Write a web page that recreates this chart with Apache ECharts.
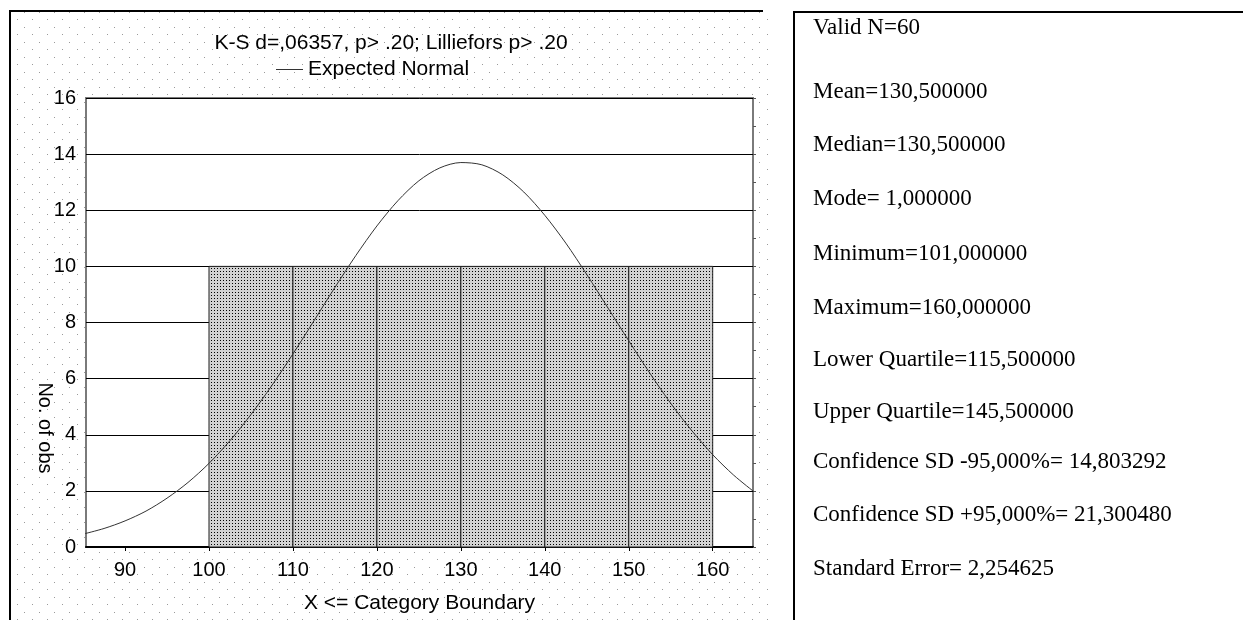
<!DOCTYPE html>
<html>
<head>
<meta charset="utf-8">
<script src="https://cdn.jsdelivr.net/npm/echarts@6/dist/echarts.min.js"></script>
<style>
  html, body { margin: 0; padding: 0; background: #fff; }
  #chart { width: 1243px; height: 620px; }
</style>
</head>
<body>
<div id="chart"></div>
<script>
// histogram bins (category boundaries) and counts
const binStart = [100, 110, 120, 130, 140, 150];
const binEnd = [110, 120, 130, 140, 150, 160];
const binCounts = [10, 10, 10, 10, 10, 10];

// expected normal curve
const curveX = [85, 87.5, 90, 92.5, 95, 97.5, 100, 102.5, 105, 107.5, 110, 112.5, 115, 117.5, 120, 122.5,
  125, 127.5, 130, 132.5, 135, 137.5, 140, 142.5, 145, 147.5, 150, 152.5, 155, 157.5, 160, 162.5, 165];
const curveY = [0.46, 0.66, 0.93, 1.28, 1.74, 2.30, 2.98, 3.79, 4.72, 5.76, 6.88, 8.06, 9.25, 10.39, 11.44, 12.34,
  13.05, 13.51, 13.70, 13.62, 13.26, 12.65, 11.82, 10.83, 9.71, 8.53, 7.35, 6.20, 5.12, 4.15, 3.29, 2.56, 1.95];

const xTicks = [90, 100, 110, 120, 130, 140, 150, 160];
const yTicks = [0, 2, 4, 6, 8, 10, 12, 14, 16];

const statLines = [
  'Valid N=60',
  'Mean=130,500000',
  'Median=130,500000',
  'Mode= 1,000000',
  'Minimum=101,000000',
  'Maximum=160,000000',
  'Lower Quartile=115,500000',
  'Upper Quartile=145,500000',
  'Confidence SD -95,000%= 14,803292',
  'Confidence SD +95,000%= 21,300480',
  'Standard Error= 2,254625'
];
const statY = [28, 92, 145, 199, 254, 308, 360, 412, 462, 515, 569];

const sans = 'Liberation Sans, Arial, sans-serif';
const serif = 'Liberation Serif, Times New Roman, serif';

// dotted paper background
function dotCanvas() {
  const c = document.createElement('canvas');
  c.width = 15; c.height = 15;
  const ctx = c.getContext('2d');
  ctx.fillStyle = '#fff';
  ctx.fillRect(0, 0, 15, 15);
  ctx.fillStyle = '#9a9a9a';
  ctx.fillRect(2, 4, 1, 1);
  ctx.fillRect(9, 12, 1, 1);
  return c;
}
// stipple fill of bars
function stippleCanvas() {
  const c = document.createElement('canvas');
  c.width = 3; c.height = 3;
  const ctx = c.getContext('2d');
  ctx.fillStyle = '#d2d2d2';
  ctx.fillRect(0, 0, 3, 3);
  ctx.fillStyle = '#000';
  ctx.fillRect(1, 1, 1, 1);
  return c;
}
const dotPattern = { image: dotCanvas(), repeat: 'repeat' };
const barPattern = { image: stippleCanvas(), repeat: 'repeat' };

const binData = binStart.map((s, i) => [s, binEnd[i], binCounts[i]]);
const curveData = curveX.map((x, i) => [x, curveY[i]]);

var myChart = echarts.init(document.getElementById('chart'));
var option;

option = {
  animation: false,
  backgroundColor: '#fff',
  title: {
    text: 'K-S d=,06357, p> .20; Lilliefors p> .20',
    left: 386,
    textAlign: 'center',
    top: 28,
    textStyle: { fontFamily: sans, fontSize: 21, fontWeight: 'normal', color: '#000' }
  },
  legend: {
    left: 271,
    top: 54,
    icon: 'rect',
    itemWidth: 27,
    itemHeight: 1,
    itemGap: 6,
    textStyle: { fontFamily: sans, fontSize: 21, color: '#000' },
    data: ['Expected Normal']
  },
  grid: {
    left: 86,
    top: 98,
    width: 667,
    height: 449,
    show: true,
    backgroundColor: '#fff',
    borderColor: '#7a7a7a',
    borderWidth: 2
  },
  xAxis: [
    {
      type: 'value',
      min: 85.35,
      max: 164.8,
      position: 'bottom',
      axisLine: { show: true, onZero: false, lineStyle: { color: '#000', width: 2 } },
      axisTick: { show: false },
      splitLine: { show: false },
      axisLabel: {
        customValues: xTicks,
        margin: 13,
        fontFamily: sans,
        fontSize: 20,
        color: '#000'
      },
      name: 'X <= Category Boundary',
      nameLocation: 'middle',
      nameGap: 46,
      nameTextStyle: { fontFamily: sans, fontSize: 21, color: '#000', verticalAlign: 'top' }
    },
    {
      type: 'value',
      min: 85.35,
      max: 164.8,
      position: 'top',
      axisLine: { show: false },
      axisTick: { show: true, inside: true, length: 4, customValues: xTicks, lineStyle: { color: '#000' } },
      axisLabel: { show: false },
      splitLine: { show: false }
    }
  ],
  yAxis: [
    {
      type: 'value',
      min: 0,
      max: 16,
      interval: 2,
      axisLine: { show: false },
      axisTick: { show: false },
      axisLabel: {
        customValues: yTicks,
        margin: 10,
        fontFamily: sans,
        fontSize: 20,
        color: '#000'
      },
      splitLine: { show: true, lineStyle: { color: '#000', width: 1 } }
    },
    {
      type: 'value',
      min: 0,
      max: 16,
      interval: 1,
      position: 'right',
      axisLine: { show: false },
      axisTick: { show: true, length: 3, lineStyle: { color: '#555' } },
      axisLabel: { show: false },
      splitLine: { show: false }
    }
  ],
  graphic: [
    {
      type: 'rect',
      z: -100,
      shape: { x: 11, y: 12, width: 760, height: 610 },
      style: { fill: dotPattern }
    },
    {
      type: 'polyline',
      z: -90,
      shape: { points: [[10, 620], [10, 11], [763, 11]] },
      style: { stroke: '#000', lineWidth: 2, fill: null }
    },
    {
      type: 'polyline',
      z: -90,
      shape: { points: [[794, 620], [794, 12], [1243, 12]] },
      style: { stroke: '#000', lineWidth: 2, fill: null }
    },
    {
      type: 'text',
      x: 45,
      y: 428,
      rotation: -Math.PI / 2,
      style: {
        text: 'No. of obs',
        font: '20px ' + sans,
        fill: '#000',
        align: 'center',
        verticalAlign: 'middle'
      }
    }
  ].concat(statLines.map((t, i) => ({
    type: 'text',
    x: 813,
    y: statY[i],
    style: {
      text: t,
      font: '23px ' + serif,
      fill: '#000',
      align: 'left',
      verticalAlign: 'middle'
    }
  }))),
  series: [
    {
      name: 'Histogram',
      type: 'custom',
      xAxisIndex: 0,
      yAxisIndex: 0,
      encode: { x: [0, 1], y: 2 },
      data: binData,
      renderItem: function (params, api) {
        const topLeft = api.coord([api.value(0), api.value(2)]);
        const bottomRight = api.coord([api.value(1), 0]);
        return {
          type: 'rect',
          shape: {
            x: topLeft[0],
            y: topLeft[1],
            width: bottomRight[0] - topLeft[0],
            height: bottomRight[1] - topLeft[1]
          },
          style: { fill: barPattern, stroke: '#222', lineWidth: 1 }
        };
      },
      z: 3
    },
    {
      name: 'Expected Normal',
      type: 'line',
      xAxisIndex: 0,
      yAxisIndex: 0,
      data: curveData,
      smooth: 0.3,
      symbol: 'none',
      clip: true,
      lineStyle: { color: '#333', width: 1 },
      itemStyle: { color: '#333' },
      z: 4
    }
  ]
};

option && myChart.setOption(option);
</script>
</body>
</html>
